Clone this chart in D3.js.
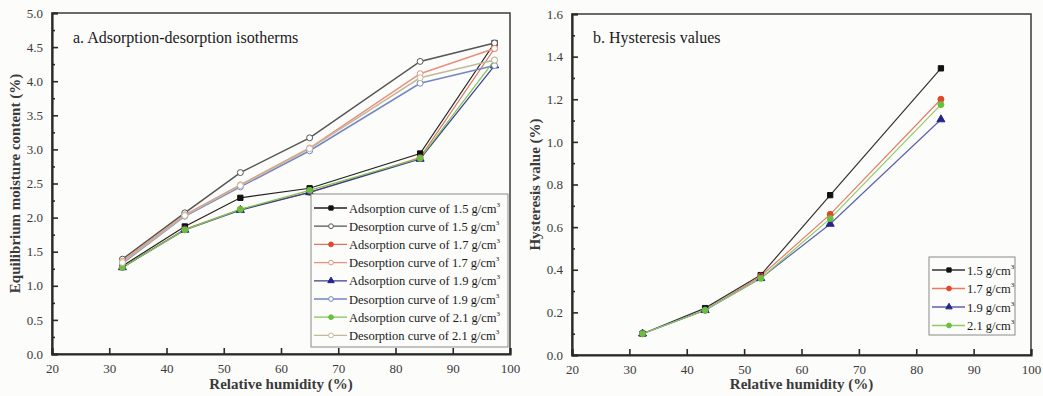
<!DOCTYPE html>
<html>
<head>
<meta charset="utf-8">
<script src="https://d3js.org/d3.v7.min.js"></script>
<style>
  body { margin: 0; background: #fcfcfa; }
  svg { display: block; font-family: "Liberation Serif", "Times New Roman", serif; }
</style>
</head>
<body>
<svg id="chart" width="1043" height="396"></svg>
<script>
// relative humidity of the salt solutions
var rhA = [32.3, 43.2, 52.9, 65.0, 84.3, 97.3];
var rhB = [32.3, 43.2, 52.9, 65.0, 84.3];

var densities = ["1.5", "1.7", "1.9", "2.1"];

// a. adsorption / desorption moisture content (%)
var ads15 = [1.29, 1.87, 2.29, 2.43, 2.94, 4.56];
var des15 = [1.39, 2.07, 2.66, 3.17, 4.29, 4.56];
var ads17 = [1.27, 1.83, 2.12, 2.37, 2.88, 4.48];
var des17 = [1.36, 2.04, 2.48, 3.02, 4.11, 4.48];
var ads19 = [1.27, 1.82, 2.11, 2.37, 2.86, 4.23];
var des19 = [1.33, 2.02, 2.45, 2.98, 3.97, 4.23];
var ads21 = [1.27, 1.82, 2.12, 2.40, 2.87, 4.31];
var des21 = [1.34, 2.03, 2.47, 3.01, 4.05, 4.31];

// b. hysteresis (%)
var hys15 = [0.10, 0.22, 0.375, 0.75, 1.345];
var hys17 = [0.10, 0.21, 0.37, 0.66, 1.20];
var hys19 = [0.10, 0.21, 0.36, 0.615, 1.105];
var hys21 = [0.10, 0.21, 0.36, 0.64, 1.175];

var yTicksA = d3.range(0, 5.01, 0.5);
var yTicksB = d3.range(0, 1.61, 0.2);
var xTicks = d3.range(20, 101, 10);

var svg = d3.select("#chart");

var seriesA = [
  {name: "Adsorption curve of 1.5 g/cm", y: ads15, color: "#111111", line: "#222222", mark: "square", fill: true},
  {name: "Desorption curve of 1.5 g/cm", y: des15, color: "#555555", line: "#555555", mark: "circle", fill: false},
  {name: "Adsorption curve of 1.7 g/cm", y: ads17, color: "#e2462c", line: "#e2705c", mark: "circle", fill: true},
  {name: "Desorption curve of 1.7 g/cm", y: des17, color: "#e8907c", line: "#e8907c", mark: "circle", fill: false},
  {name: "Adsorption curve of 1.9 g/cm", y: ads19, color: "#22268a", line: "#3a3e90", mark: "triangle", fill: true},
  {name: "Desorption curve of 1.9 g/cm", y: des19, color: "#7486c4", line: "#7486c4", mark: "circle", fill: false},
  {name: "Adsorption curve of 2.1 g/cm", y: ads21, color: "#6cbf3e", line: "#7cc454", mark: "circle", fill: true},
  {name: "Desorption curve of 2.1 g/cm", y: des21, color: "#c2b89c", line: "#c2b89c", mark: "circle", fill: false}
];

var seriesB = [
  {name: "1.5 g/cm", y: hys15, color: "#111111", line: "#333333", mark: "square", fill: true},
  {name: "1.7 g/cm", y: hys17, color: "#e2462c", line: "#e87a66", mark: "circle", fill: true},
  {name: "1.9 g/cm", y: hys19, color: "#22268a", line: "#5a62b0", mark: "triangle", fill: true},
  {name: "2.1 g/cm", y: hys21, color: "#6cbf3e", line: "#8ccc68", mark: "circle", fill: true}
];

function symbolFor(m, sz) {
  sz = sz || 28;
  if (m == "square") return d3.symbol().type(d3.symbolSquare).size(sz);
  if (m == "triangle") return d3.symbol().type(d3.symbolTriangle).size(sz);
  return d3.symbol().type(d3.symbolCircle).size(sz);
}

function drawPanel(opt) {
  var x = d3.scaleLinear().domain([20, 100]).range([opt.left, opt.right]);
  var y = d3.scaleLinear().domain([0, opt.ymax]).range([opt.bottom, opt.top]);
  var g = svg.append("g");

  // frame
  g.append("rect").attr("x", opt.left).attr("y", opt.top)
    .attr("width", opt.right - opt.left).attr("height", opt.bottom - opt.top)
    .attr("fill", "none").attr("stroke", "#3a3a3a").attr("stroke-width", 1.5);

  // axes, ticks pointing inside
  var xAxis = d3.axisBottom(x).tickValues(xTicks).tickSize(-6).tickPadding(10).tickFormat(d3.format("d"));
  var gx = g.append("g").attr("transform", "translate(0," + opt.bottom + ")").call(xAxis);
  var yAxis = d3.axisLeft(y).tickValues(opt.yTicks).tickSize(-6).tickPadding(9).tickFormat(d3.format(".1f"));
  var gy = g.append("g").attr("transform", "translate(" + opt.left + ",0)").call(yAxis);
  var minor = opt.yTicks.slice(0, -1).map(function(d, i) { return (d + opt.yTicks[i + 1]) / 2; });
  g.append("g").attr("transform", "translate(" + opt.left + ",0)")
    .call(d3.axisLeft(y).tickValues(minor).tickSize(-3).tickFormat(""))
    .select(".domain").remove();

  [gx, gy].forEach(function(a) {
    a.select(".domain").attr("stroke", "#2a2a2a").attr("stroke-width", 2.2);
    a.selectAll(".tick text").attr("fill", "#3a3a3a").style("font-size", "13px")
      .style("font-family", "Liberation Serif, serif");
  });
  g.selectAll(".tick line").attr("stroke", "#2a2a2a").attr("stroke-width", 1.6);

  // labels
  g.append("text").attr("x", (opt.left + opt.right) / 2).attr("y", 389)
    .attr("text-anchor", "middle").style("font-size", "15px").style("font-weight", "bold")
    .attr("fill", "#3a3a3a").text("Relative humidity (%)");
  g.append("text").attr("transform", "translate(" + opt.ylabX + "," + (opt.top + opt.bottom) / 2 + ") rotate(-90)")
    .attr("text-anchor", "middle").style("font-size", "15px").style("font-weight", "bold")
    .attr("fill", "#3a3a3a").text(opt.ylabel);
  g.append("text").attr("x", opt.left + 21).attr("y", 43)
    .style("font-size", "16px").attr("fill", "#1a1a1a").text(opt.title);

  var line = d3.line().x(function(d) { return x(d[0]); }).y(function(d) { return y(d[1]); });

  opt.series.forEach(function(s) {
    var pts = opt.xs.map(function(v, i) { return [v, s.y[i]]; });
    g.append("path").datum(pts).attr("d", line)
      .attr("fill", "none").attr("stroke", s.line).attr("stroke-width", s.fill ? 1.2 : 1.5);
  });
  opt.series.forEach(function(s) {
    var pts = opt.xs.map(function(v, i) { return [v, s.y[i]]; });
    g.selectAll(null).data(pts).enter().append("path")
      .attr("d", symbolFor(s.mark)())
      .attr("transform", function(d) { return "translate(" + x(d[0]) + "," + y(d[1]) + ")"; })
      .attr("fill", s.fill ? s.color : "#ffffff")
      .attr("stroke", s.color).attr("stroke-width", 1);
  });

  // legend
  var L = opt.legend;
  g.append("rect").attr("x", L.x).attr("y", L.y).attr("width", L.w).attr("height", L.h)
    .attr("fill", "#fcfcfa").attr("stroke", "#8a8a8a").attr("stroke-width", 1);
  opt.series.forEach(function(s, i) {
    var yy = L.y + L.pad + i * L.step;
    g.append("line").attr("x1", L.x + 3).attr("x2", L.x + 36).attr("y1", yy).attr("y2", yy)
      .attr("stroke", s.line).attr("stroke-width", 1.3);
    g.append("path").attr("d", symbolFor(s.mark, 18)())
      .attr("transform", "translate(" + (L.x + 20) + "," + yy + ")")
      .attr("fill", s.fill ? s.color : "#ffffff").attr("stroke", s.color);
    var t = g.append("text").attr("x", L.x + 38).attr("y", yy + 4.5)
      .style("font-size", "12.5px").attr("fill", "#1a1a1a").text(s.name);
    t.append("tspan").attr("dy", -6).style("font-size", "7px").text("3");
  });
}

drawPanel({
  left: 52, right: 510, top: 13, bottom: 354, ymax: 5,
  yTicks: yTicksA, xs: rhA, series: seriesA,
  title: "a. Adsorption-desorption isotherms",
  ylabel: "Equilibrium moisture content (%)", ylabX: 20,
  legend: {x: 311, y: 194, w: 197, h: 153, pad: 14, step: 18.2}
});

drawPanel({
  left: 572, right: 1031, top: 14, bottom: 355, ymax: 1.6,
  yTicks: yTicksB, xs: rhB, series: seriesB,
  title: "b. Hysteresis values",
  ylabel: "Hysteresis value (%)", ylabX: 540,
  legend: {x: 929, y: 257, w: 86, h: 78, pad: 13, step: 18.5}
});
</script>
</body>
</html>
